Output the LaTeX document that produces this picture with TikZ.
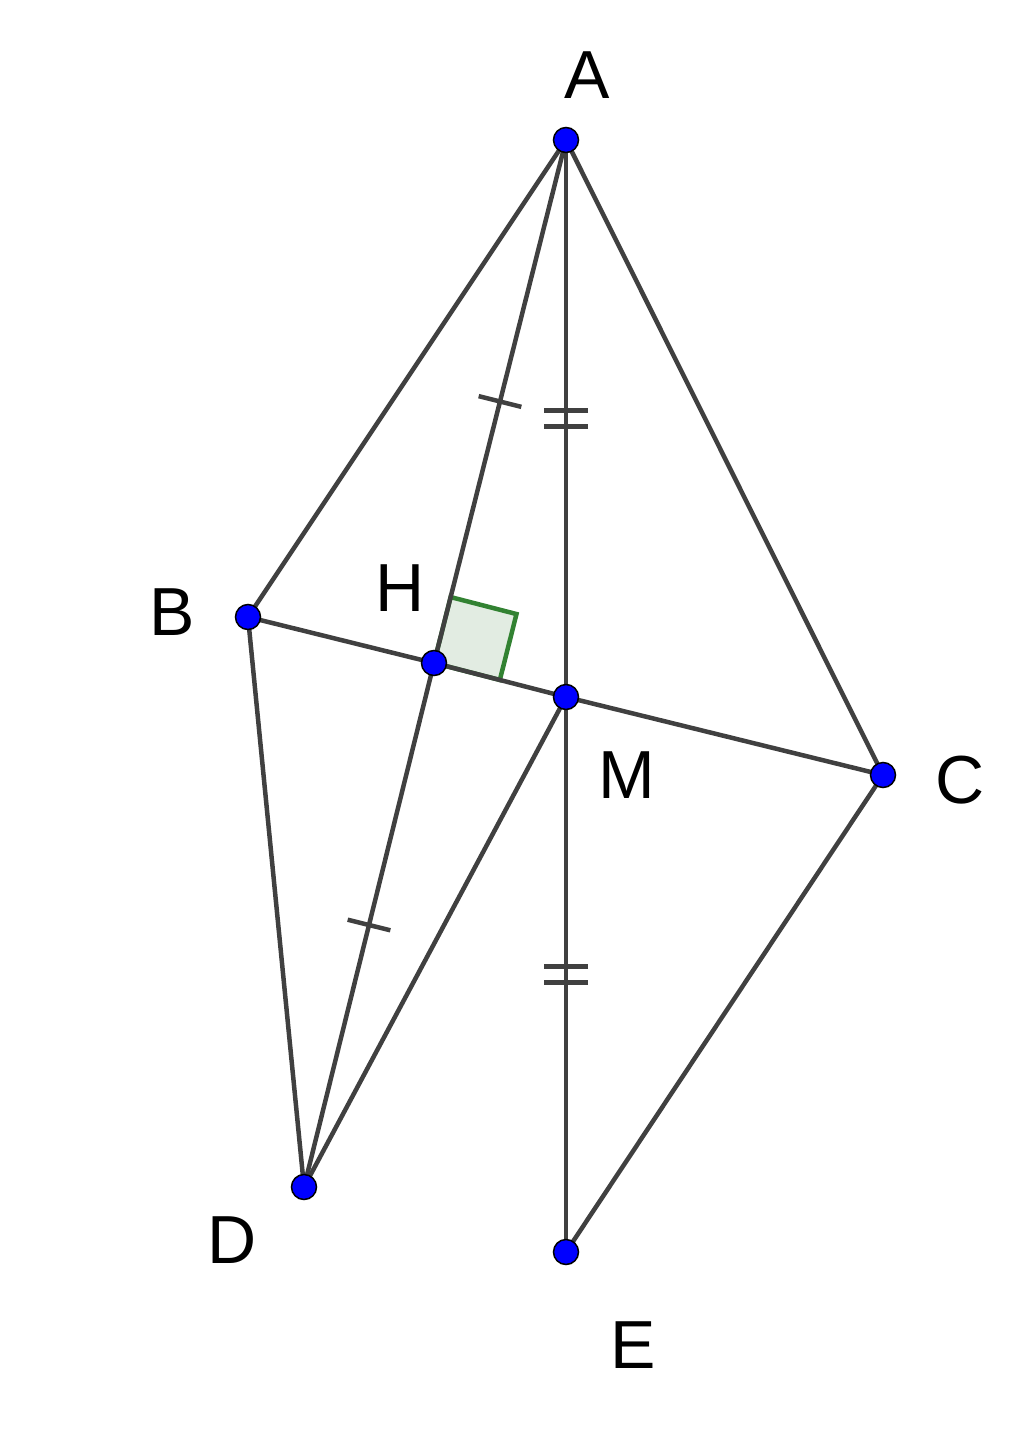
\documentclass[tikz,border=0pt]{standalone}
\usepackage{fontspec}
\setmainfont{Liberation Sans}
\usetikzlibrary{calc}
\definecolor{segc}{RGB}{64,64,64}
\definecolor{angc}{RGB}{50,130,50}
\definecolor{angfill}{RGB}{226,236,226}
\begin{document}
\begin{tikzpicture}[x=1pt,y=-1pt,
  seg/.style={draw=segc,line width=4.5pt,line cap=round},
  tick/.style={draw=segc,line width=4.5pt},
  dot/.style={circle,fill=blue,draw=black,line width=1.5pt,minimum size=25pt,inner sep=0pt},
  lbl/.style={font=\fontsize{68}{80}\selectfont,text=black,inner sep=0pt}]
\useasboundingbox (0,0) rectangle (1024,1434);
\coordinate (A) at (566,140);
\coordinate (B) at (248,617);
\coordinate (C) at (883,775);
\coordinate (D) at (304,1187);
\coordinate (E) at (566,1252);
\coordinate (H) at (434,663);
\coordinate (M) at (566,697);
% right angle mark
\coordinate (Hm) at ($(H)!68pt!(M)$);
\coordinate (Ha) at ($(H)!68pt!(A)$);
\coordinate (Hc) at ($(Hm)+(Ha)-(H)$);
\filldraw[fill=angfill,draw=angc,line width=4.5pt] (H) -- (Hm) -- (Hc) -- (Ha) -- cycle;
% segments
\draw[seg] (A) -- (B);
\draw[seg] (A) -- (C);
\draw[seg] (A) -- (H);
\draw[seg] (H) -- (D);
\draw[seg] (A) -- (M);
\draw[seg] (M) -- (E);
\draw[seg] (B) -- (H);
\draw[seg] (H) -- (M);
\draw[seg] (M) -- (C);
\draw[seg] (B) -- (D);
\draw[seg] (D) -- (M);
\draw[seg] (C) -- (E);
% single ticks
\coordinate (t1) at ($(A)!0.5!(H)$);
\draw[tick] ($(t1)!22pt!90:(H)$) -- ($(t1)!22pt!-90:(H)$);
\coordinate (t2) at ($(H)!0.5!(D)$);
\draw[tick] ($(t2)!22pt!90:(D)$) -- ($(t2)!22pt!-90:(D)$);
% double ticks
\coordinate (m1) at ($(A)!0.5!(M)$);
\coordinate (m1a) at ($(m1)!8pt!(M)$);
\coordinate (m1b) at ($(m1)!-8pt!(M)$);
\draw[tick] ($(m1a)!22pt!90:(M)$) -- ($(m1a)!22pt!-90:(M)$);
\draw[tick] ($(m1b)!22pt!90:(M)$) -- ($(m1b)!22pt!-90:(M)$);
\coordinate (m2) at ($(M)!0.5!(E)$);
\coordinate (m2a) at ($(m2)!8pt!(E)$);
\coordinate (m2b) at ($(m2)!-8pt!(E)$);
\draw[tick] ($(m2a)!22pt!90:(E)$) -- ($(m2a)!22pt!-90:(E)$);
\draw[tick] ($(m2b)!22pt!90:(E)$) -- ($(m2b)!22pt!-90:(E)$);
% points
\foreach \p in {A,B,C,D,E,H,M} \node[dot] (p\p) at (\p) {};
% labels
\node[lbl] (lA) at (587,75) {A};
\node[lbl] (lB) at (172,612) {B};
\node[lbl] (lC) at (960,780) {C};
\node[lbl] (lD) at (232,1240) {D};
\node[lbl] (lE) at (633,1345) {E};
\node[lbl] (lH) at (400,588) {H};
\node[lbl] (lM) at (627,775) {M};
\end{tikzpicture}
\end{document}
